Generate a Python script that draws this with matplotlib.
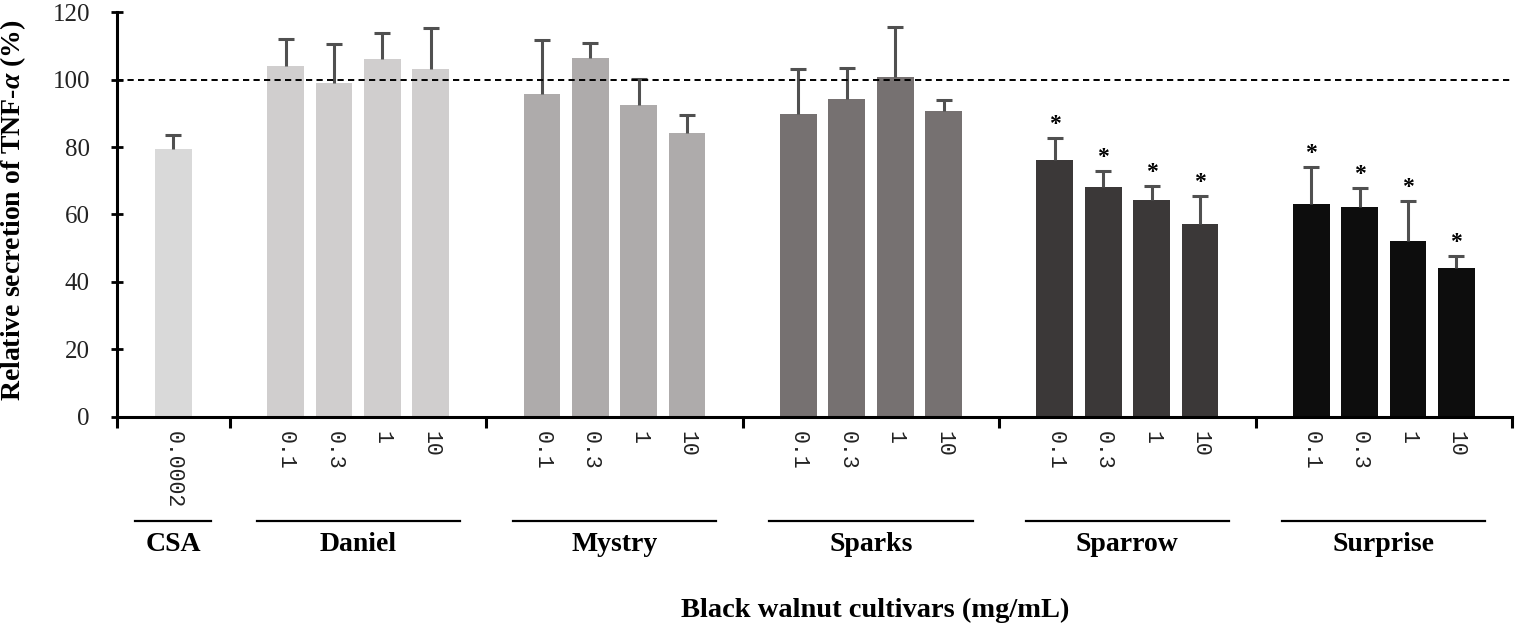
import matplotlib.pyplot as plt
import matplotlib.transforms as mtransforms

plt.rcParams["font.family"] = ["Liberation Serif", "DejaVu Serif"]
plt.rcParams["mathtext.fontset"] = "custom"
plt.rcParams["mathtext.it"] = "Liberation Serif:italic:bold"
plt.rcParams["mathtext.rm"] = "Liberation Serif:bold"

# ── data ──────────────────────────────────────────────────────
cultivars = ["CSA", "Daniel", "Mystry", "Sparks", "Sparrow", "Surprise"]
doses = [
    ["0.0002"],
    ["0.1", "0.3", "1", "10"],
    ["0.1", "0.3", "1", "10"],
    ["0.1", "0.3", "1", "10"],
    ["0.1", "0.3", "1", "10"],
    ["0.1", "0.3", "1", "10"],
]
means = [
    [79.3],
    [104.1, 99.1, 106.0, 103.1],
    [95.8, 106.5, 92.4, 84.3],
    [89.8, 94.3, 100.8, 90.8],
    [76.3, 68.2, 64.2, 57.2],
    [63.2, 62.1, 52.2, 44.2],
]
errors = [
    [4.3],
    [8.0, 11.6, 7.8, 12.1],
    [15.9, 4.3, 7.7, 5.2],
    [13.3, 9.3, 14.9, 3.3],
    [6.4, 4.8, 4.4, 8.3],
    [10.9, 5.9, 11.8, 3.6],
]
significant = [
    [False],
    [False, False, False, False],
    [False, False, False, False],
    [False, False, False, False],
    [True, True, True, True],
    [True, True, True, True],
]
colors = ["#d9d9d9", "#d0cece", "#aeabab", "#767171", "#3b3838", "#0d0d0d"]

# ── layout of the category axis (units = bar spacing) ─────────
first_sep = 2.335
group_w = 5.3
bar_w = 0.76
separators = [0.0] + [first_sep + i * group_w for i in range(len(cultivars))]
centers = [first_sep / 2] + [first_sep + (i + 0.5) * group_w for i in range(len(cultivars) - 1)]

fig = plt.figure(figsize=(15.35, 6.29), dpi=100)
ax = fig.add_axes([0.0762, 0.3375, 0.9088, 0.643])

tick_pos, tick_lab = [], []
for g, name in enumerate(cultivars):
    n = len(means[g])
    xs = [centers[g] + (j - (n - 1) / 2) for j in range(n)]
    ax.bar(xs, means[g], width=bar_w, color=colors[g], zorder=2)
    eb = ax.errorbar(xs, means[g], yerr=[[0] * n, errors[g]], fmt="none",
                     ecolor="#505050", elinewidth=2.2, capsize=5.5, capthick=2.2,
                     zorder=3)
    # keep only the upper caps
    for cl in eb[1]:
        if list(cl.get_ydata()) == list(means[g]):
            cl.set_visible(False)
    for x, m, e, s in zip(xs, means[g], errors[g], significant[g]):
        if s:
            ax.annotate("*", (x, m + e), xytext=(0, 2), textcoords="offset points",
                        ha="center", va="bottom", fontsize=17, fontweight="bold")
    tick_pos += xs
    tick_lab += doses[g]

ax.axhline(100, color="black", lw=1.4, ls=(0, (3.2, 2.2)), zorder=4)

ax.set_xlim(separators[0], separators[-1])
ax.set_ylim(0, 120)
ax.set_yticks(range(0, 121, 20))

ax.set_xticks(tick_pos)
ax.set_xticklabels(tick_lab, rotation=-90, family="Liberation Mono", fontsize=15.5,
                   color="#222222")
ax.set_xticks(separators, minor=True)
ax.tick_params(axis="x", which="major", length=0, pad=10)
ax.tick_params(axis="x", which="minor", direction="out", length=8, width=2.2)
ax.tick_params(axis="y", direction="inout", length=9, width=2, labelsize=18,
               pad=15, labelcolor="#222222")

for side in ["top", "right"]:
    ax.spines[side].set_visible(False)
for side in ["left", "bottom"]:
    ax.spines[side].set_linewidth(2.2)

# ── group lines and cultivar names under the dose labels ──────
trans = mtransforms.blended_transform_factory(ax.transData, ax.transAxes)
for g, name in enumerate(cultivars):
    half = 0.785 if len(means[g]) == 1 else 2.1
    ax.plot([centers[g] - half, centers[g] + half], [-0.258, -0.258],
            color="black", lw=1.6, transform=trans, clip_on=False)
    ax.text(centers[g], -0.317, name, transform=trans, ha="center", va="center",
            fontsize=20, fontweight="bold")

ax.set_ylabel(r"Relative secretion of TNF-$\alpha$ (%)", fontsize=20, fontweight="bold")
ax.yaxis.set_label_coords(-0.064, 0.51)

fig.text(0.570, 0.030, "Black walnut cultivars (mg/mL)", ha="center", va="center",
         fontsize=20.5, fontweight="bold")

fig.savefig("out.png", dpi=100)
